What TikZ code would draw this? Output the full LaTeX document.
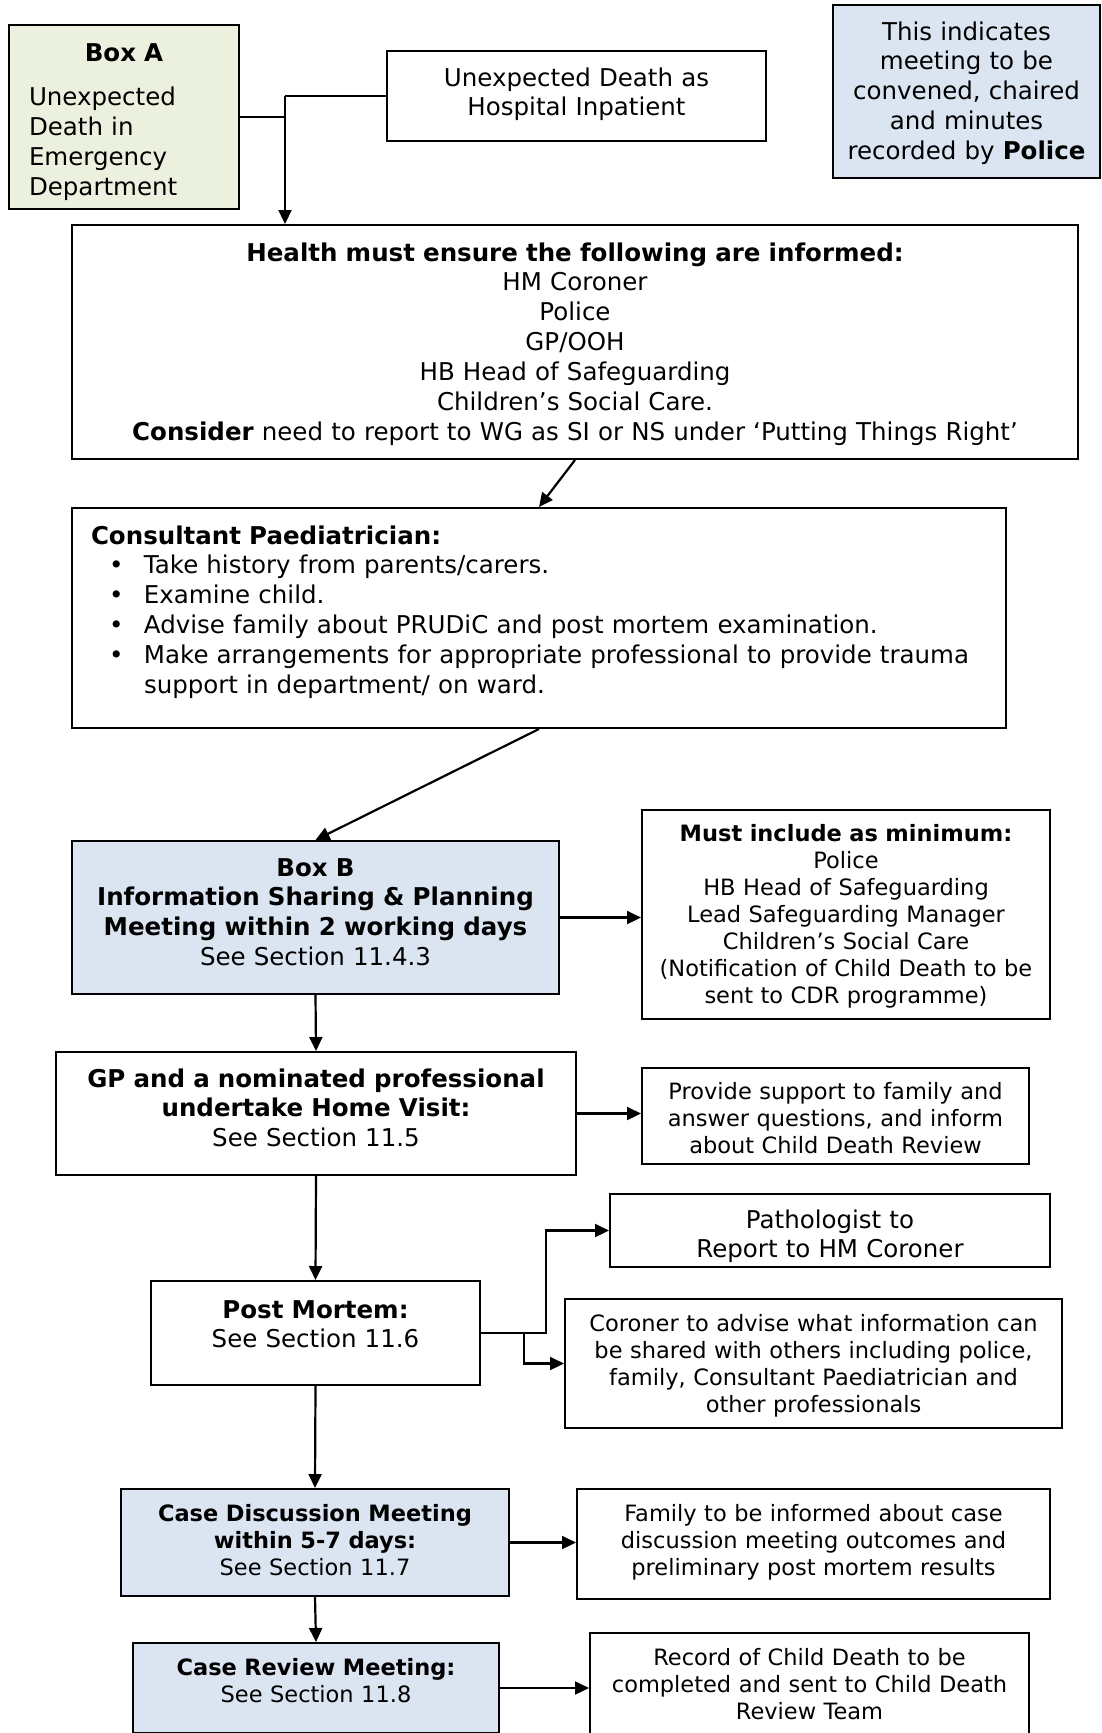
\documentclass[tikz,border=0pt]{standalone}
\usepackage{fontspec}
\setmainfont{DejaVu Sans}
\usetikzlibrary{arrows.meta}
\definecolor{meetblue}{HTML}{DBE5F1}
\definecolor{boxagreen}{HTML}{EBF1DE}

\begin{document}
\begin{tikzpicture}[x=1pt, y=-1pt]
    \tikzset{box/.style={draw, line width=2pt, inner sep=0pt, align=center, anchor=north west},
        big/.style={font=\fontsize{24.5}{29.85}\selectfont},
        small/.style={font=\fontsize{22.5}{27.1}\selectfont},
        meet/.style={fill=meetblue},
        arr/.style={line width=2.2pt, -{Triangle[length=14pt, width=13pt]}}}
    \useasboundingbox (0,0) rectangle (1101,1733);
    \clip (0,0) rectangle (1101,1733);

    % top row
    \node[box, big, fill=boxagreen, align=left, inner xsep=20pt, text width=190pt,
        text height=36pt, text depth=148pt] (boxa) at (8, 24)
        {\makebox[190pt]{\bfseries Box A}\\[15pt]Unexpected\\Death in\\Emergency\\Department};
    \node[box, big, text width=379pt, text height=35pt, text depth=55pt] (inpat) at (386, 50)
        {Unexpected Death as\\Hospital Inpatient};
    \node[box, big, meet, text width=267pt, text height=35pt, text depth=138pt] (key) at (832, 4)
        {This indicates\\meeting to be\\convened, chaired\\and minutes\\recorded by \textbf{Police}};

    \node[box, big, text width=1006pt, text height=36pt, text depth=198pt] (health) at (71, 224)
        {\textbf{Health must ensure the following are informed:}\\HM Coroner\\Police\\GP/OOH\\
        HB Head of Safeguarding\\Children’s Social Care.\\
        \textbf{Consider} need to report to WG as SI or NS under ‘Putting Things Right’};
    \node[box, big, align=left, inner xsep=19pt, text width=896pt, text height=36pt,
        text depth=184pt] (consult) at (71, 507)
        {\textbf{Consultant Paediatrician:}\\
        \hspace*{18pt}\makebox[35pt][l]{•}Take history from parents/carers.\\
        \hspace*{18pt}\makebox[35pt][l]{•}Examine child.\\
        \hspace*{18pt}\makebox[35pt][l]{•}Advise family about PRUDiC and post mortem examination.\\
        \hspace*{18pt}\makebox[35pt][l]{•}Make arrangements for appropriate professional to provide trauma\\
        \hspace*{53pt}support in department/ on ward.};

    % meetings
    \node[box, big, meet, text width=487pt, text height=35pt, text depth=118pt] (boxb) at (71, 840)
        {\textbf{Box B}\\\textbf{Information Sharing \& Planning}\\
        \textbf{Meeting within 2 working days}\\See Section 11.4.3};
    \node[box, small, text width=408pt, text height=31pt, text depth=178pt] (must) at (641, 809)
        {\textbf{Must include as minimum:}\\Police\\HB Head of Safeguarding\\Lead Safeguarding Manager\\
        Children’s Social Care\\(Notification of Child Death to be\\sent to CDR programme)};
    \node[box, big, text width=520pt, text height=35pt, text depth=88pt] (gp) at (55, 1051)
        {\textbf{GP and a nominated professional}\\\textbf{undertake Home Visit:}\\See Section 11.5};
    \node[box, small, text width=387pt, text height=31pt, text depth=65pt] (support) at (641, 1067)
        {Provide support to family and\\answer questions, and inform\\about Child Death Review};
    \node[box, big, text width=440pt, text height=34pt, text depth=39pt] (patho) at (609, 1193)
        {Pathologist to\\Report to HM Coroner};
    \node[box, big, text width=329pt, text height=37pt, text depth=67pt] (pm) at (150, 1280)
        {\textbf{Post Mortem:}\\See Section 11.6};
    \node[box, small, text width=497pt, text height=32pt, text depth=97pt] (coroner) at (564, 1298)
        {Coroner to advise what information can\\be shared with others including police,\\
        family, Consultant Paediatrician and\\other professionals};
    \node[box, small, meet, text width=388pt, text height=32pt, text depth=75pt] (cdm) at (120, 1488)
        {\textbf{Case Discussion Meeting}\\\textbf{within 5-7 days:}\\See Section 11.7};
    \node[box, small, text width=473pt, text height=32pt, text depth=78pt] (family) at (576, 1488)
        {Family to be informed about case\\discussion meeting outcomes and\\preliminary post mortem results};
    \node[box, small, meet, text width=366pt, text height=32pt, text depth=58pt] (crm) at (132, 1642)
        {\textbf{Case Review Meeting:}\\See Section 11.8};
    \node[box, small, text width=439pt, text height=32pt, text depth=76pt] (record) at (589, 1632)
        {Record of Child Death to be\\completed and sent to Child Death\\Review Team};

    \coordinate (join) at (285, 96);
    \draw[line width=2.2pt] (boxa.east) -- (boxa.east -| join)
        (inpat.west) -- (join);
    \draw[arr] (join) -- (join |- health.north);
    \draw[arr] (health.south) -- (consult.north);
    \draw[arr] (consult.south) -- (boxb.north);
    \draw[arr] (boxb.east) -- (boxb.east -| must.west);
    \draw[arr] (boxb.south) -- (gp.north);
    \draw[arr] (gp.east) -- (gp.east -| support.west);
    \draw[arr] (gp.south) -- (pm.north);
    \draw[arr] (pm.east) -- ++(65, 0) |- (patho.west);
    \draw[arr] (pm.east) -- ++(43, 0) |- (coroner.west);
    \draw[arr] (pm.south) -- (cdm.north);
    \draw[arr] (cdm.east) -- (cdm.east -| family.west);
    \draw[arr] (cdm.south) -- (crm.north);
    \draw[arr] (crm.east) -- (crm.east -| record.west);
\end{tikzpicture}
\end{document}
